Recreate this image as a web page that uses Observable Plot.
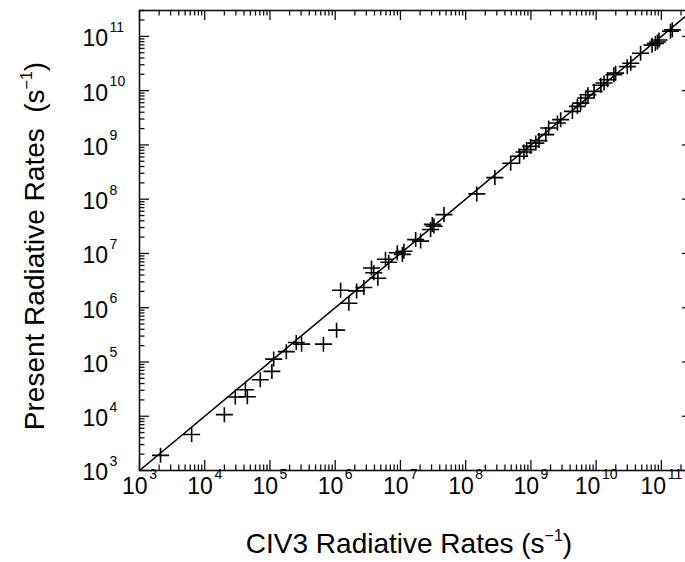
<!DOCTYPE html>
<html>
<head>
<meta charset="utf-8">
<script src="https://cdn.jsdelivr.net/npm/d3@7"></script>
<script src="https://cdn.jsdelivr.net/npm/@observablehq/plot@0.6"></script>
<style>
  body { margin: 0; background: #fff; }
  svg { font-family: "Liberation Sans", Arial, Helvetica, sans-serif; }
</style>
</head>
<body>
<div id="chart"></div>
<script>
// CIV3 radiative rates (x) vs present radiative rates (y), s^-1
const civ3Rates = [
  2.1e3, 6.3e3, 2.0e4, 2.94e4, 4.2e4, 4.5e4, 7.1e4, 1.07e5, 1.14e5, 1.78e5,
  2.53e5, 3.05e5, 6.6e5, 1.05e6, 1.21e6, 1.62e6, 2.13e6, 2.75e6, 3.6e6, 3.9e6,
  4.5e6, 5.9e6, 6.6e6, 8.95e6, 1.07e7, 1.13e7, 1.71e7, 2.04e7, 2.9e7, 3.08e7,
  3.27e7, 4.65e7, 1.48e8, 2.8e8, 4.9e8, 6.7e8, 7.8e8, 8.6e8, 9.9e8, 1.19e9,
  1.33e9, 1.69e9, 1.87e9, 2.55e9, 2.86e9, 4.33e9, 5.16e9, 5.8e9, 6.9e9, 7.5e9,
  9.3e9, 1.18e10, 1.32e10, 1.49e10, 1.87e10, 1.99e10, 3.0e10, 3.4e10, 4.8e10, 7.2e10,
  8.1e10, 8.7e10, 9.2e10, 1.38e11, 1.47e11
];
const presentRates = [
  1.9e3, 4.6e3, 1.07e4, 2.26e4, 3.08e4, 2.29e4, 4.7e4, 6.7e4, 1.13e5, 1.55e5,
  2.28e5, 2.13e5, 2.13e5, 3.86e5, 2.1e6, 1.21e6, 2.04e6, 2.35e6, 5.4e6, 4.4e6,
  3.5e6, 7.8e6, 6.9e6, 1.03e7, 9.6e6, 1.1e7, 1.8e7, 1.69e7, 2.77e7, 3.43e7,
  3.19e7, 5.2e7, 1.25e8, 2.5e8, 4.6e8, 6.2e8, 7.4e8, 8.2e8, 9.4e8, 1.08e9,
  1.2e9, 1.55e9, 2.05e9, 2.53e9, 2.92e9, 4.15e9, 5.13e9, 5.9e9, 7.3e9, 8.4e9,
  9.7e9, 1.26e10, 1.38e10, 1.59e10, 1.96e10, 2.1e10, 2.77e10, 3.2e10, 4.9e10, 6.9e10,
  7.4e10, 7.9e10, 8.6e10, 1.24e11, 1.32e11
];
const axisDomain = [1e3, 3e11];
const identityEnds = [1e3, 3e11];          // y = x reference line
const majorTicks = [1e3, 1e4, 1e5, 1e6, 1e7, 1e8, 1e9, 1e10, 1e11];
const minorMultipliers = [2, 3, 4, 5, 6, 7, 8, 9];
const xTitle = "CIV3 Radiative Rates (s";
const yTitle = "Present Radiative Rates  (s";
const unitExponent = "\u22121";

const points = civ3Rates.map((x, i) => ({x, y: presentRates[i]}));
const minorTicks = majorTicks.flatMap(m => minorMultipliers.map(k => k * m))
  .filter(v => v <= axisDomain[1]);

const W = 685, H = 562;
const mL = 139, mR = -7, mT = 10, mB = 92;
const innerW = W - mL - mR, innerH = H - mT - mB;
const majLen = 10, minLen = 5.5;

const cross = {
  draw(ctx) {
    ctx.moveTo(-8.5, 0); ctx.lineTo(8.5, 0);
    ctx.moveTo(0, -7.5); ctx.lineTo(0, 7.5);
  }
};

const tk = {stroke: "#111", strokeWidth: 1.3};
const svg = Plot.plot({
  width: W, height: H,
  marginLeft: mL, marginRight: mR, marginTop: mT, marginBottom: mB,
  x: {type: "log", domain: axisDomain, axis: null},
  y: {type: "log", domain: axisDomain, axis: null},
  marks: [
    Plot.line(identityEnds, {x: d => d, y: d => d, stroke: "#000", strokeWidth: 1.5, clip: true}),
    Plot.dot(points, {x: "x", y: "y", symbol: cross, fill: "none", stroke: "#000", strokeWidth: 1.6}),
    // bottom & top ticks
    Plot.ruleX(majorTicks, {x: d => d, insetTop: innerH - majLen, ...tk}),
    Plot.ruleX(majorTicks, {x: d => d, insetBottom: innerH - majLen, ...tk}),
    Plot.ruleX(minorTicks, {x: d => d, insetTop: innerH - minLen, ...tk}),
    Plot.ruleX(minorTicks, {x: d => d, insetBottom: innerH - minLen, ...tk}),
    // left & right ticks
    Plot.ruleY(majorTicks, {y: d => d, insetRight: innerW - majLen, ...tk}),
    Plot.ruleY(majorTicks, {y: d => d, insetLeft: innerW - majLen, ...tk}),
    Plot.ruleY(minorTicks, {y: d => d, insetRight: innerW - minLen, ...tk}),
    Plot.ruleY(minorTicks, {y: d => d, insetLeft: innerW - minLen, ...tk}),
    Plot.frame({stroke: "#111", strokeWidth: 1.6}),
    // tick labels
    Plot.text(majorTicks, {x: d => d, frameAnchor: "bottom", dy: 23, fontSize: 23,
      text: d => "10^" + Math.round(Math.log10(d)), fill: "#000"}),
    Plot.text(majorTicks, {y: d => d, frameAnchor: "left", dx: -57, dy: 2.5, textAnchor: "start", fontSize: 23,
      text: d => "10^" + Math.round(Math.log10(d)), fill: "#000"})
  ]
});

// superscript exponents in tick labels
d3.select(svg).selectAll("text").each(function() {
  const t = this.textContent;
  const m = /^10\^(\d+)$/.exec(t);
  if (!m) return;
  const sel = d3.select(this);
  sel.style("font-size", "23px").text("10");
  sel.append("tspan").attr("dy", -14.5).attr("dx", 1.5).style("font-size", "14px").text(m[1]);
});

// axis titles with superscript units
const s = d3.select(svg);
const xt = s.append("text").attr("x", 409).attr("y", 553).attr("text-anchor", "middle")
  .style("font-size", "28px").attr("fill", "#000");
xt.append("tspan").text(xTitle);
xt.append("tspan").attr("dy", -12).style("font-size", "16px").text(unitExponent);
xt.append("tspan").attr("dy", 12).text(")");

const yt = s.append("text").attr("transform", "translate(44,246) rotate(-90)")
  .attr("text-anchor", "middle").style("font-size", "28px").attr("fill", "#000")
  .style("white-space", "pre");
yt.append("tspan").text(yTitle);
yt.append("tspan").attr("dy", -12).style("font-size", "16px").text(unitExponent);
yt.append("tspan").attr("dy", 12).text(")");

document.getElementById("chart").appendChild(svg);
</script>
</body>
</html>
